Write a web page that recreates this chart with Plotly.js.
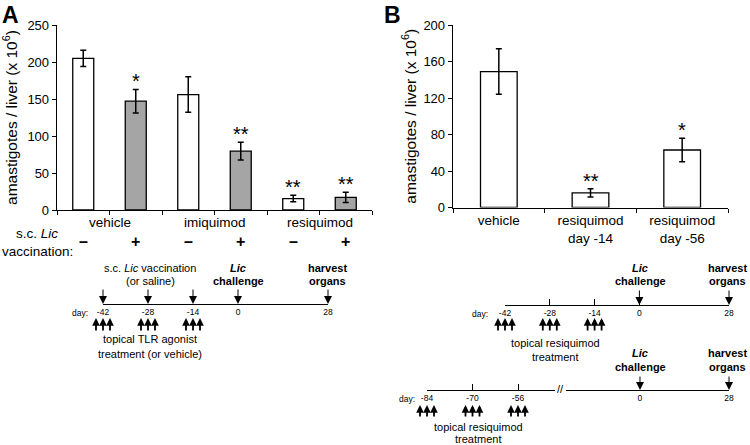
<!DOCTYPE html>
<html>
<head>
<meta charset="utf-8">
<script src="https://cdn.plot.ly/plotly-3.0.1.min.js"></script>
<style>html,body{margin:0;padding:0;background:#fff}#chart{width:750px;height:445px}</style>
</head>
<body>
<div id="chart"></div>
<script>
// ---------- data ----------
const groupsA = ["vehicle", "imiquimod", "resiquimod"];
const vaccA = ["–", "+", "–", "+", "–", "+"];
const meanA = [205, 147, 156, 79.5, 15.5, 17];
const errA = [11, 16, 24, 12, 4.5, 7];
const starsA = ["", "*", "", "**", "**", "**"];
const yTicksA = [0, 50, 100, 150, 200, 250];

const catsB = ["vehicle", "resiquimod<br>day -14", "resiquimod<br>day -56"];
const meanB = [149, 16, 63];
const errB = [25, 4.5, 13];
const starsB = ["", "**", "*"];
const yTicksB = [0, 40, 80, 120, 160, 200];

const daysA = [-42, -28, -14, 0, 28];
const vaccDaysA = [-42, -28, -14];
const treatDaysA = [-42, -28, -14];
const eventDays = [0, 28];
const daysB1 = [-42, -28, -14, 0, 28];
const treatDaysB1 = [-42, -28, -14];
const treatDaysB2 = [-84, -70, -56];

// ---------- helpers ----------
const W = 750, H = 445;
const px = x => x / W;
const py = y => 1 - y / H;
const FONT = "Liberation Sans, Arial, sans-serif";
const GREY = "#a5a5a5";
const xA = vaccA.map((v, i) => groupsA[Math.floor(i / 2)] + " " + v);

function txt(text, x, y, size, extra) {
  return Object.assign({
    text: text, x: px(x), y: py(y), xref: "paper", yref: "paper",
    showarrow: false, font: {size: size, color: "#000", family: FONT},
    xanchor: "center", yanchor: "middle"
  }, extra || {});
}
function downArrow(xref, day, yLine, len) {
  return {xref: xref, x: day, yref: "paper", y: py(yLine), ax: 0, ay: -len,
    axref: "pixel", ayref: "pixel", text: "", showarrow: true,
    arrowhead: 2, arrowsize: 1.6, arrowwidth: 1, arrowcolor: "#000", standoff: 0};
}
function upArrows(xref, day, yTip, len) {
  return [-7, 0, 7].map(s => ({xref: xref, x: day, yref: "paper", y: py(yTip),
    ax: 0, ay: len, text: "", showarrow: true, xshift: s,
    arrowhead: 2, arrowsize: 0.85, arrowwidth: 1.8, arrowcolor: "#000", standoff: 0}));
}

// ---------- traces ----------
const traces = [
  {type: "bar", x: xA, y: meanA, xaxis: "x", yaxis: "y", width: 0.4,
   marker: {color: vaccA.map(v => v === "+" ? GREY : "#fff"), line: {color: "#000", width: 1.3}},
   error_y: {type: "data", array: errA, visible: true, color: "#000", thickness: 1.5, width: 3},
   hoverinfo: "y", showlegend: false},
  {type: "bar", x: catsB, y: meanB, xaxis: "x2", yaxis: "y2", width: 0.4,
   marker: {color: "#fff", line: {color: "#000", width: 1.3}},
   error_y: {type: "data", array: errB, visible: true, color: "#000", thickness: 1.5, width: 3},
   hoverinfo: "y", showlegend: false},
  {type: "scatter", mode: "markers", x: daysA, y: daysA.map(() => 0), xaxis: "x3", yaxis: "y3",
   marker: {opacity: 0}, hoverinfo: "skip", showlegend: false},
  {type: "scatter", mode: "markers", x: daysB1, y: daysB1.map(() => 0), xaxis: "x4", yaxis: "y4",
   marker: {opacity: 0}, hoverinfo: "skip", showlegend: false},
  {type: "scatter", mode: "markers", x: treatDaysB2, y: treatDaysB2.map(() => 0), xaxis: "x5", yaxis: "y5",
   marker: {opacity: 0}, hoverinfo: "skip", showlegend: false},
  {type: "scatter", mode: "markers", x: eventDays, y: eventDays.map(() => 0), xaxis: "x6", yaxis: "y5",
   marker: {opacity: 0}, hoverinfo: "skip", showlegend: false}
];

// ---------- axes ----------
const baseAx = {showgrid: false, zeroline: false, showline: true, linecolor: "#000", fixedrange: true,
  tickcolor: "#000", tickfont: {size: 13, color: "#000", family: FONT}};
const tlAx = (dom, rng, vals, ticks, anchor) => Object.assign({}, baseAx, {
  domain: dom, range: rng, anchor: anchor, tickvals: vals, ticktext: vals.map(String),
  ticks: ticks, ticklen: 6, tickwidth: 1, linewidth: 1,
  tickfont: {size: 8.5, color: "#000", family: FONT}});
const hidY = (yl, anchor) => ({domain: [py(yl), py(yl) + 0.02], range: [0, 1], visible: false, anchor: anchor, fixedrange: true});

const layout = {
  width: W, height: H, margin: {l: 0, r: 0, t: 0, b: 0},
  paper_bgcolor: "#fff", plot_bgcolor: "rgba(0,0,0,0)",
  font: {family: FONT, color: "#000"}, showlegend: false, bargap: 0,
  xaxis: Object.assign({}, baseAx, {domain: [px(57), px(372)], anchor: "y", type: "category",
    ticks: "outside", tickson: "boundaries", ticklen: 4, linewidth: 1.3, showticklabels: false}),
  yaxis: Object.assign({}, baseAx, {domain: [py(210), py(25)], anchor: "x", range: [0, 250],
    tickvals: yTicksA, ticks: "outside", ticklen: 4, linewidth: 1.3,
    title: {text: "amastigotes / liver (x 10<sup>6</sup>)", font: {size: 15.5, color: "#000", family: FONT}, standoff: 6}}),
  xaxis2: Object.assign({}, baseAx, {domain: [px(453), px(728)], anchor: "y2", type: "category",
    ticks: "outside", tickson: "boundaries", ticklen: 4, linewidth: 1.3,
    tickfont: {size: 13.5, color: "#000", family: FONT}}),
  yaxis2: Object.assign({}, baseAx, {domain: [py(207.5), py(25)], anchor: "x2", range: [0, 200],
    tickvals: yTicksB, ticks: "outside", ticklen: 4, linewidth: 1.3,
    title: {text: "amastigotes / liver (x 10<sup>6</sup>)", font: {size: 15.5, color: "#000", family: FONT}, standoff: 3}}),
  xaxis3: tlAx([px(103), px(328)], [-42, 28], daysA, "", "y3"),
  yaxis3: hidY(304, "x3"),
  xaxis4: tlAx([px(505), px(729)], [-42, 28], daysB1, "inside", "y4"),
  yaxis4: hidY(305, "x4"),
  xaxis5: tlAx([px(427), px(555)], [-84, -84 + 128 / 3.25], treatDaysB2, "inside", "y5"),
  yaxis5: hidY(390, "x5"),
  xaxis6: tlAx([px(566), px(729)], [-74 / 3.18, 28], eventDays, "", "y5"),
  annotations: []
};

const ann = layout.annotations;
// panel letters
ann.push(txt("<b>A</b>", 0, 0, 23, {xanchor: "left", yanchor: "top"}));
ann.push(txt("<b>B</b>", 382, 0, 23, {xanchor: "left", yanchor: "top"}));
// panel A group labels and vaccination signs
groupsA.forEach((g, i) => ann.push({text: g, xref: "x", x: 2 * i + 0.5, yref: "paper", y: py(222),
  showarrow: false, font: {size: 13.5, color: "#000", family: FONT}, yanchor: "middle"}));
vaccA.forEach((v, i) => ann.push({text: "<b>" + v + "</b>", xref: "x", x: xA[i], yref: "paper", y: py(242),
  showarrow: false, font: {size: 16, color: "#000", family: FONT}, yanchor: "middle"}));
ann.push(txt("s.c. <i>Lic</i>", 37, 233, 13.5));
ann.push(txt("vaccination:", 37, 251, 13.5));
// stars
starsA.forEach((s, i) => { if (s) ann.push({text: s, xref: "x", x: xA[i], yref: "y", y: meanA[i] + errA[i],
  yanchor: "bottom", showarrow: false, font: {size: 20, color: "#000", family: FONT}, yshift: -5}); });
starsB.forEach((s, i) => { if (s) ann.push({text: s, xref: "x2", x: catsB[i], yref: "y2", y: meanB[i] + errB[i],
  yanchor: "bottom", showarrow: false, font: {size: 20, color: "#000", family: FONT}, yshift: -5}); });

// timeline A
ann.push(txt("s.c. <i>Lic</i> vaccination", 150, 268, 11));
ann.push(txt("(or saline)", 150, 281, 11));
ann.push(txt("<b><i>Lic</i></b>", 238, 268, 11));
ann.push(txt("<b>challenge</b>", 238, 281, 11));
ann.push(txt("<b>harvest</b>", 327, 268, 11));
ann.push(txt("<b>organs</b>", 327, 281, 11));
ann.push(txt("day:", 80, 313, 8.5));
ann.push(txt("topical TLR agonist", 150, 339, 11));
ann.push(txt("treatment (or vehicle)", 150, 354, 11));
vaccDaysA.concat(eventDays).forEach(d => ann.push(downArrow("x3", d, 304, 16)));
treatDaysA.forEach(d => upArrows("x3", d, 318, 14).forEach(a => ann.push(a)));

// timeline B1
ann.push(txt("<b><i>Lic</i></b>", 640, 268, 11));
ann.push(txt("<b>challenge</b>", 640, 281, 11));
ann.push(txt("<b>harvest</b>", 727, 268, 11));
ann.push(txt("<b>organs</b>", 727, 281, 11));
ann.push(txt("day:", 480, 314, 8.5));
ann.push(txt("topical resiquimod", 555, 343, 11));
ann.push(txt("treatment", 555, 357, 11));
eventDays.forEach(d => ann.push(downArrow("x4", d, 305, 16)));
treatDaysB1.forEach(d => upArrows("x4", d, 318, 14).forEach(a => ann.push(a)));

// timeline B2
ann.push(txt("<b><i>Lic</i></b>", 640, 353, 11));
ann.push(txt("<b>challenge</b>", 640, 367, 11));
ann.push(txt("<b>harvest</b>", 727, 353, 11));
ann.push(txt("<b>organs</b>", 727, 367, 11));
ann.push(txt("day:", 407, 399, 8.5));
ann.push(txt("//", 560, 389, 11));
ann.push(txt("topical resiquimod", 478, 427, 11));
ann.push(txt("treatment", 478, 438.5, 11));
eventDays.forEach(d => ann.push(downArrow("x6", d, 390, 15)));
treatDaysB2.forEach(d => upArrows("x5", d, 405, 13).forEach(a => ann.push(a)));

Plotly.newPlot("chart", traces, layout, {staticPlot: true, displayModeBar: false});
</script>
</body>
</html>
